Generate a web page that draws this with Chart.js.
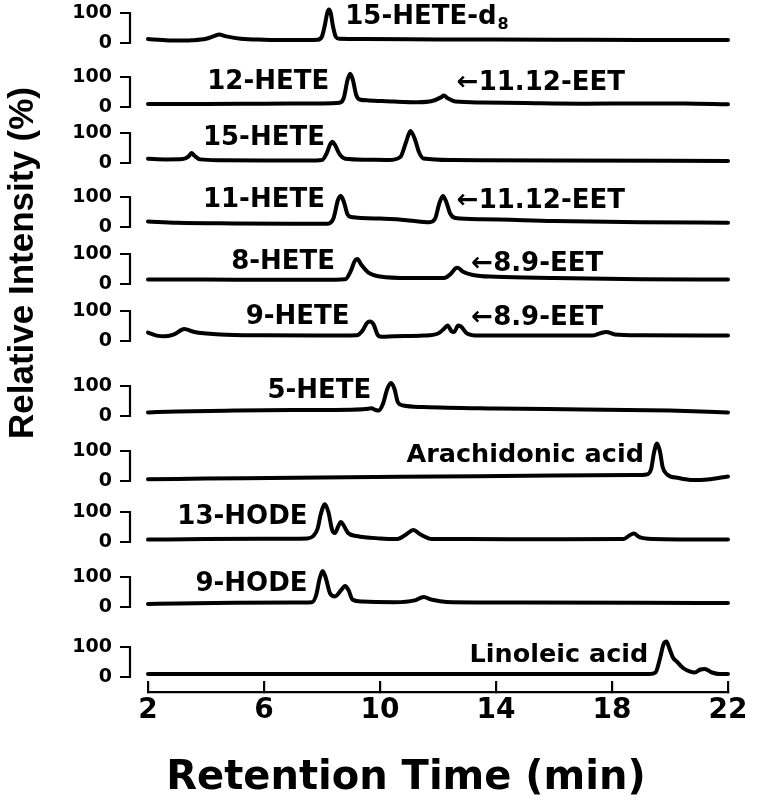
<!DOCTYPE html>
<html>
<head>
<meta charset="utf-8">
<script src="https://cdn.jsdelivr.net/npm/chart.js@4.4.0/dist/chart.umd.min.js"></script>
<style>
  html, body { margin: 0; padding: 0; background: #fff; }
  #wrap { width: 759px; height: 805px; }
</style>
</head>
<body>
<div id="wrap"><canvas id="myChart" width="759" height="805"></canvas></div>
<script>
// ticks
var xTicks = [2, 6, 10, 14, 18, 22];
var yTicks = [0, 100];

// chromatograms: [retention time (min), relative intensity (%)]
var hete15d8 = [[2,13],[2.5,10],[3,8],[3.5,9],[4,14],[4.3,24],[4.45,28],[4.7,22],[5.2,14],[6,11],[7,10],[7.85,11],[8,22],[8.1,60],[8.18,100],[8.24,112],[8.3,100],[8.38,55],[8.48,20],[8.6,14],[9.5,13],[12,12],[16,11],[19,10],[22,10]];
var hete12 = [[2,10],[4,10],[6,11],[8,12],[8.6,14],[8.75,30],[8.88,90],[8.97,111],[9.06,92],[9.18,40],[9.3,25],[9.6,22],[10.5,18],[11.3,16],[11.8,20],[12.1,32],[12.2,38],[12.35,28],[12.6,18],[13.5,15],[15,13],[17,11],[19,12],[20.5,12],[22,9]];
var hete15 = [[2,14],[2.6,12],[3.2,13],[3.4,22],[3.5,33],[3.6,24],[3.8,12],[4.5,9],[6,8],[7.5,8],[8,10],[8.15,30],[8.28,62],[8.36,71],[8.45,60],[8.6,30],[8.8,14],[9.5,11],[10.3,10],[10.7,20],[10.9,70],[11.05,107],[11.2,80],[11.35,35],[11.5,15],[12.5,10],[16,8],[22,7]];
var hete11 = [[2,18],[3,14],[5,12],[7,11],[8.2,11],[8.4,30],[8.55,90],[8.65,103],[8.75,85],[8.88,42],[9,33],[10,28],[11,22],[11.7,16],[11.9,28],[12.05,80],[12.17,103],[12.28,85],[12.42,45],[12.6,30],[13.5,26],[16,20],[19,16],[22,14]];
var hete8 = [[2,15],[4,15],[6,14],[8,14],[8.8,16],[9,45],[9.12,75],[9.22,83],[9.35,65],[9.6,38],[10,25],[11,20],[12.2,20],[12.45,35],[12.6,52],[12.68,54],[12.85,42],[13.2,30],[14,24],[16,20],[19,16],[22,15]];
var hete9 = [[2,28],[2.3,18],[2.6,16],[2.9,22],[3.25,40],[3.6,30],[4.5,22],[6,19],[8,18],[9.2,19],[9.4,35],[9.55,60],[9.65,65],[9.78,55],[9.92,20],[10.05,14],[10.5,16],[11.5,18],[12,25],[12.2,40],[12.33,52],[12.47,32],[12.55,30],[12.7,52],[12.8,48],[13,25],[13.4,18],[15,18],[17.3,18],[17.6,26],[17.8,30],[18.1,22],[19,19],[22,18]];
var hete5 = [[2,12],[3,15],[5,18],[7,20],[9,21],[9.5,23],[9.7,26],[9.85,20],[9.95,18],[10.1,40],[10.25,90],[10.38,110],[10.5,90],[10.62,45],[10.8,35],[11.5,30],[14,25],[17,22],[20,18],[22,12]];
var arachidonic = [[2,6],[4,8],[8,12],[12,15],[16,18],[18.8,20],[19.2,22],[19.35,40],[19.45,95],[19.55,125],[19.65,100],[19.75,45],[19.9,22],[20.3,10],[20.8,3],[21.3,5],[22,15]];
var hode13 = [[2,8],[4,10],[6,11],[7.5,12],[7.7,20],[7.85,45],[7.95,90],[8.1,126],[8.22,100],[8.35,40],[8.45,30],[8.55,50],[8.65,67],[8.75,55],[8.9,30],[9.2,20],[10,12],[10.6,10],[10.9,25],[11.15,40],[11.4,25],[11.8,10],[13,10],[16,9],[18.4,10],[18.6,22],[18.75,28],[18.95,16],[19.4,10],[22,8]];
var hode9 = [[2,10],[3,12],[5,14],[7,15],[7.65,16],[7.8,40],[7.92,95],[8.02,120],[8.12,100],[8.28,45],[8.45,35],[8.65,55],[8.8,70],[8.92,55],[9.05,25],[9.4,18],[10.5,16],[11.2,22],[11.5,33],[11.8,24],[12.3,17],[15,15],[19,14],[22,13]];
var linoleic = [[2,10],[6,10],[10,10],[14,10],[17,10],[19.3,10],[19.5,15],[19.65,60],[19.78,110],[19.88,118],[19.98,95],[20.1,65],[20.25,50],[20.45,30],[20.7,18],[20.85,15],[21.05,25],[21.2,27],[21.45,15],[21.7,10],[22,10]];

var traces = [hete15d8, hete12, hete15, hete11, hete8, hete9, hete5, arachidonic, hode13, hode9, linoleic];

// peak labels
var labelPanel = [0, 1, 1, 2, 3, 3, 4, 4, 5, 5, 6, 7, 8, 9, 10];
var labelText = ['15-HETE-d', '12-HETE', '\u219011.12-EET', '15-HETE', '11-HETE', '\u219011.12-EET', '8-HETE', '\u21908.9-EET', '9-HETE', '\u21908.9-EET', '5-HETE', 'Arachidonic acid', '13-HODE', '9-HODE', 'Linoleic acid'];
var labelTime = [8.8, 8.25, 12.65, 8.1, 8.1, 12.65, 8.45, 13.15, 8.95, 13.15, 9.7, 19.1, 7.5, 7.5, 19.25];
var labelLevel = [86, 82, 80, 82, 89, 86, 73, 66, 80, 75, 84, 86, 83, 77, 73];
var labelAlign = ['left', 'right', 'left', 'right', 'right', 'left', 'right', 'left', 'right', 'left', 'right', 'right', 'right', 'right', 'right'];

// y range of each stacked panel
var axisMin = [-33.3, -33.3, -33.3, -33.3, -33.3, -33.3, -33.3, -33.3, -33.3, -33.3, -50];
var axisMax = [143.3, 180, 153.3, 180, 156.7, 156.7, 216.7, 183.3, 170, 183.3, 200];

var fam = "'DejaVu Sans', sans-serif";

var scales = {
  x: {
    type: 'linear', position: 'bottom', min: 2, max: 22, bounds: 'data',
    afterBuildTicks: function(s) { s.ticks = xTicks.map(function(v){ return {value: v}; }); },
    afterFit: function(s) { s.height = 113; s.paddingLeft = 0; s.paddingRight = 0; },
    border: { display: true, color: '#000', width: 2.2 },
    grid: { display: true, drawOnChartArea: false, drawTicks: true, tickLength: -11, color: '#000', lineWidth: 2.2 },
    ticks: { padding: 13, color: '#000', autoSkip: false, maxRotation: 0, font: { family: fam, size: 28, weight: 'bold' } }
  }
};
// last added axis goes on top of the stack
for (var i = traces.length - 1; i >= 0; i--) {
  scales['y' + i] = {
    type: 'linear', position: 'left', stack: 'traces', stackWeight: axisMax[i] - axisMin[i],
    min: axisMin[i], max: axisMax[i], bounds: 'data',
    afterBuildTicks: function(s) { s.ticks = yTicks.map(function(v){ return {value: v}; }); },
    afterFit: function(s) { s.width = 148; s.paddingTop = 0; s.paddingBottom = 0; },
    border: { display: false },
    grid: { display: false, drawTicks: false },
    ticks: { padding: 36, color: '#000', autoSkip: false, font: { family: fam, size: 19, weight: 'bold' } }
  };
}

var datasets = traces.map(function(t, i) {
  return {
    data: t.map(function(p){ return {x: p[0], y: p[1]}; }),
    xAxisID: 'x', yAxisID: 'y' + i,
    borderColor: '#000', borderWidth: 4, pointRadius: 0,
    cubicInterpolationMode: 'monotone', borderJoinStyle: 'round', borderCapStyle: 'round',
    clip: false
  };
});

// brackets beside each panel, peak labels, axis titles
var decor = {
  id: 'decor',
  afterDraw: function(chart) {
    var ctx = chart.ctx;
    ctx.save();
    ctx.strokeStyle = '#000';
    ctx.lineWidth = 2.2;
    for (var i = 0; i < traces.length; i++) {
      var s = chart.scales['y' + i];
      var bx = s.right - 18;
      var top = s.getPixelForValue(100), bot = s.getPixelForValue(0);
      ctx.beginPath();
      ctx.moveTo(bx - 10, top);
      ctx.lineTo(bx, top);
      ctx.lineTo(bx, bot);
      ctx.lineTo(bx - 10, bot);
      ctx.stroke();
    }
    var xs = chart.scales.x;
    ctx.fillStyle = '#000';
    ctx.textBaseline = 'middle';
    for (var j = 0; j < labelText.length; j++) {
      var ys = chart.scales['y' + labelPanel[j]];
      var px = xs.getPixelForValue(labelTime[j]);
      var py = ys.getPixelForValue(labelLevel[j]);
      var fs = labelText[j].indexOf('acid') >= 0 ? 25.5 : 26;
      ctx.font = 'bold ' + fs + 'px ' + fam;
      ctx.textAlign = labelAlign[j];
      ctx.fillText(labelText[j], px, py);
      if (j === 0) {
        var w = ctx.measureText(labelText[j]).width;
        ctx.font = 'bold 16px ' + fam;
        ctx.textAlign = 'left';
        ctx.fillText('8', px + w + 1, py + 8);
      }
    }
    // x title
    ctx.textBaseline = 'alphabetic';
    ctx.textAlign = 'center';
    ctx.font = 'bold 40px ' + fam;
    ctx.fillText('Retention Time (min)', 406, 789);
    // y title
    ctx.font = "bold 35px 'Liberation Sans', Arial, sans-serif";
    ctx.textBaseline = 'middle';
    ctx.translate(23, 263);
    ctx.rotate(-Math.PI / 2);
    ctx.fillText('Relative Intensity (%)', 0, 0);
    ctx.restore();
  }
};

const myChart = new Chart(document.getElementById('myChart'), {
  type: 'line',
  data: { datasets: datasets },
  options: {
    responsive: false,
    animation: false,
    devicePixelRatio: 1,
    layout: { padding: { left: 0, right: 31, top: 0, bottom: 0 } },
    plugins: { legend: { display: false }, tooltip: { enabled: false } },
    scales: scales
  },
  plugins: [decor]
});
</script>
</body>
</html>
